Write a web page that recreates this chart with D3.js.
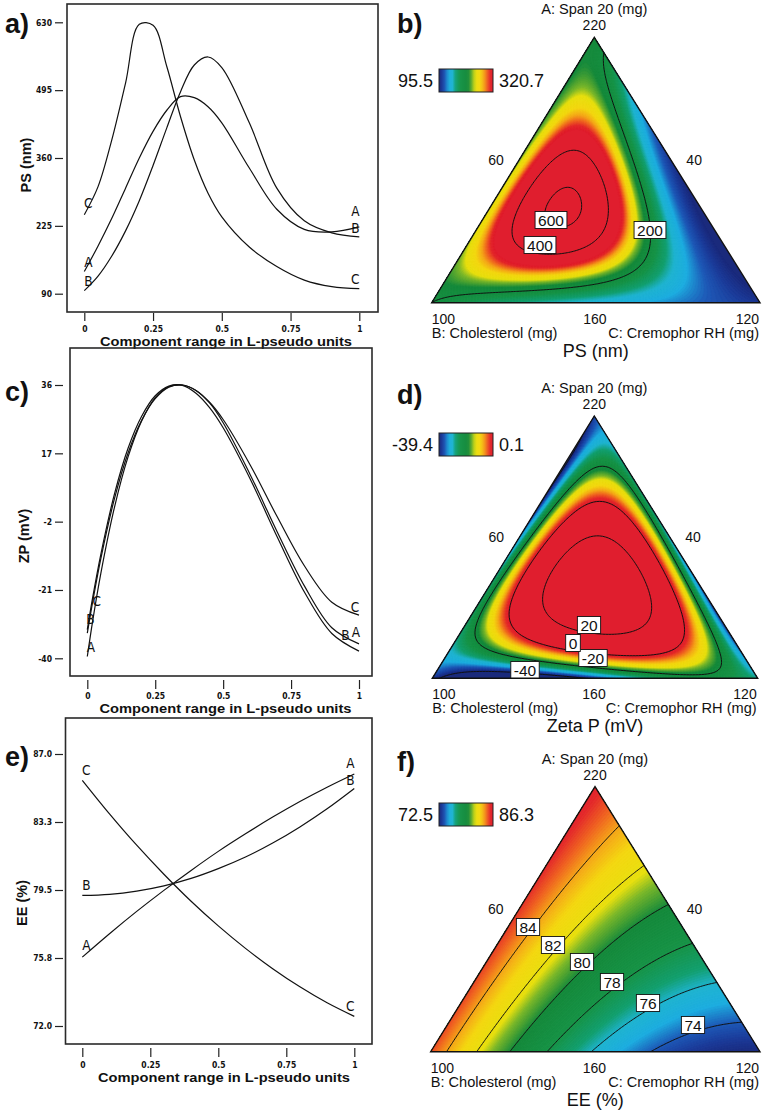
<!DOCTYPE html>
<html><head><meta charset="utf-8">
<script src="https://cdn.jsdelivr.net/npm/d3@7"></script>
<style>body{margin:0;background:#fff}svg{display:block}</style>
</head><body>
<svg id="chart" width="762" height="1110"></svg>
<script>
// ================= DATA =================
// Cox trace values read from panels a, c, e (x = component range in L-pseudo units)
const psT = [0,0.05,0.1,0.15,0.2,0.25,0.3,0.35,0.4,0.45,0.5,0.6,0.7,0.8,0.9,1];
const psA = [134,185,240,300,360,413,455,482,480,462,430,340,258,218,213,223];
const psB = [96,125,165,215,275,345,420,492,545,561,540,430,300,235,211,203];
const psC = [247,303,396,509,626,624,542,442,356,290,243,183,144,117,104,100];

const zpT = [0,0.02,0.05,0.1,0.15,0.2,0.25,0.3,0.35,0.4,0.45,0.5,0.6,0.7,0.8,0.9,1];
const zpA = [-39.5,-29.5,-16.3,2,16,26,32.5,35.5,36,34.5,31,25.5,11,-5,-20,-31.5,-36];
const zpB = [-32,-23,-11,5.7,18.4,27.3,33,35.7,35.9,33.7,29.7,24.1,9.8,-6.4,-21.7,-33.1,-38];
const zpC = [-33,-24.2,-12.2,4.4,17.1,26.2,32.2,35.4,36,34.5,31.2,26.4,13.7,-0.8,-14.4,-24.4,-28];

const eeT = [0,0.1,0.2,0.3,0.4,0.5,0.6,0.7,0.8,0.9,1];
const eeA = [75.8,77.09,78.32,79.48,80.58,81.63,82.6,83.52,84.38,85.17,85.9];
const eeB = [79.2,79.26,79.44,79.73,80.14,80.68,81.32,82.09,82.98,83.98,85.1];
const eeC = [85.55,83.7,81.97,80.37,78.88,77.52,76.28,75.16,74.16,73.28,72.53];

// Points (A, B, C pseudo fractions) and their values
const psMapPoints = [[0.349,0.485,0.166],[0.387,0.344,0.269],[0.455,0.349,0.196],[0.274,0.471,0.255]];
const psMapValues = [600,600,600,600];
const zpMapPoints = [[0,0.7,0.3],[0.03,0.7,0.27]];
const zpMapValues = [-45,-40];
const eeMapPoints = [[0,0.9505,0.0495],[0,0.8594,0.1406],[0,0.7653,0.2347],[0,0.6468,0.3532],[0,0.5102,0.4898],[0,0.3128,0.6872],
  [0.848,0,0.152],[0.705,0,0.295],[0.565,0,0.435],[0.4026,0,0.5974],[0.2592,0,0.7408],[0.1083,0,0.8917],
  [0.4706,0.4687,0.0607],[0.4026,0.427,0.1704],[0.3385,0.3708,0.2907],[0.263,0.3176,0.4194],[0.1838,0.248,0.568],[0.1008,0.1531,0.7461]];
const eeMapValues = [84,82,80,78,76,74, 84,82,80,78,76,74, 84,82,80,78,76,74];

const seriesNames = ["A","B","C"];
const xTicks = [0,0.25,0.5,0.75,1];
const xTickLabels = ["0","0.25","0.5","0.75","1"];
const psTicks = [90,225,360,495,630];
const psTickLabels = ["90","225","360","495","630"];
const zpTicks = [-40,-21,-2,17,36];
const zpTickLabels = ["-40","-21","-2","17","36"];
const eeTicks = [72,75.75,79.5,83.25,87];
const eeTickLabels = ["72.0","75.8","79.5","83.3","87.0"];

const psColorRange = [95.5,320.7];
const zpColorRange = [-39.4,0.1];
const eeColorRange = [72.5,86.3];
const psLevels = [200,400,600];
const zpLevels = [-40,-20,0,20];
const eeLevels = [74,76,78,80,82,84];
const componentNames = ["A: Span 20 (mg)","B: Cholesterol (mg)","C: Cremophor RH (mg)"];
const vertexLabels = ["220","100","120"];
const edgeLabels = ["60","40","160"];
const ternaryTitles = ["PS (nm)","Zeta P (mV)","EE (%)"];

const paletteStops = [0,0.05,0.11,0.18,0.25,0.31,0.4,0.54,0.62,0.67,0.76,0.83,0.89,0.95,1];
const paletteColors = ["#1a2a7c","#1c3a98","#1e5ab8","#1eaee0","#20b4d0","#14a070","#189448","#168a3c","#7cb82a","#e8e010","#f4d812","#f5a81a","#f06522","#e42a2c","#e01e2e"];

// ================= HELPERS =================
const svg = d3.select("#chart");
const defs = svg.append("defs");
const FONT = "'Liberation Sans', Arial, Helvetica, sans-serif";
const NARROW = "'Liberation Sans Narrow','Arial Narrow','DejaVu Sans Condensed',sans-serif";

function terms(a,b,c){return [a,b,c,a*b,a*c,b*c,a*b*c,a*b*(a-b),a*c*(a-c),b*c*(b-c)];}
function tracePoint(comp,t){const o=(1-t)/2;return comp===0?[t,o,o]:comp===1?[o,t,o]:[o,o,t];}
// least-squares Scheffé full-cubic fit to trace values plus points
function fitModel(m){
  const n=10, M=Array.from({length:n},()=>new Array(n+1).fill(0));
  const add=(abc,v,extra)=>{
    const r=terms(...abc), y=m.fwd(v), w=(m.w?m.w(v):1)*extra;
    for(let i=0;i<n;i++){for(let j=0;j<n;j++)M[i][j]+=w*r[i]*r[j];M[i][n]+=w*r[i]*y;}
  };
  m.series.forEach((vals,comp)=>vals.forEach((v,k)=>add(tracePoint(comp,m.T[k]),v,1)));
  m.mapPts.forEach((abc,k)=>add(abc,m.mapVals[k],m.mapW));
  let tr=0;for(let i=0;i<n;i++)tr+=M[i][i];
  for(let i=0;i<n;i++)M[i][i]+=1e-7*tr/n;
  for(let i=0;i<n;i++){
    let p=i;for(let r=i+1;r<n;r++)if(Math.abs(M[r][i])>Math.abs(M[p][i]))p=r;
    [M[i],M[p]]=[M[p],M[i]];
    for(let r=0;r<n;r++){if(r===i)continue;const f=M[r][i]/M[i][i];for(let c=i;c<=n;c++)M[r][c]-=f*M[i][c];}
  }
  const beta=M.map((row,i)=>row[n]/row[i]);
  return (a,b,c)=>{const t=terms(a,b,c);let s=0;for(let i=0;i<n;i++)s+=beta[i]*t[i];return m.inv(s);};
}
function makeColor(range){
  const [lo,hi]=range;
  return d3.scaleLinear().domain(paletteStops.map(s=>lo+s*(hi-lo))).range(paletteColors).interpolate(d3.interpolateRgb).clamp(true);
}

const models = [
  {T:psT,series:[psA,psB,psC],mapPts:psMapPoints,mapVals:psMapValues,mapW:3,fwd:v=>1000/v,inv:g=>1000/Math.max(g,0.4),w:v=>(v/250)**2},
  {T:zpT,series:[zpA,zpB,zpC],mapPts:zpMapPoints,mapVals:zpMapValues,mapW:8,fwd:v=>v,inv:g=>g},
  {T:eeT,series:[eeA,eeB,eeC],mapPts:eeMapPoints,mapVals:eeMapValues,mapW:1,fwd:v=>v,inv:g=>g}
].map(fitModel);

// ================= TRACE PANELS =================
const tracePanels = [
  {tag:"a)",tagPos:[5,33],frame:[67,4,378,312],xPix:[84.3,359.3],yDom:[90,630],yPix:[293.7,22.3],
   axisY:313,tickLen:8,tickPad:4.5,
   ticks:psTicks,tickLabels:psTickLabels,yTitle:"PS (nm)",yTitlePos:[26,165],xTitleY:345.5,xTitleX:226,
   T:psT,series:[psA,psB,psC],
   labels:[[2,0,4,-12],[0,0,4,-10],[1,0,4,-10],[0,1,-4,-16],[1,1,-4,-9],[2,1,-4,-10]]},
  {tag:"c)",tagPos:[5,401],frame:[70,348,372,676],xPix:[87.3,359],yDom:[-40,36],yPix:[658.3,385],
   axisY:680,tickLen:9,tickPad:4,
   ticks:zpTicks,tickLabels:zpTickLabels,yTitle:"ZP (mV)",yTitlePos:[24,536],xTitleY:712.5,xTitleX:225.5,
   T:zpT,series:[zpA,zpB,zpC],
   labels:[[0,0,3.5,-10],[1,0,3,-10.5],[2,0.02,4,0],[2,1,-4,-8.5],[0,1,-3,-12],[1,0.95,0,-7]]},
  {tag:"e)",tagPos:[5,766],frame:[65.5,718,372,1044],xPix:[82.3,354.3],yDom:[72,87],yPix:[1026,754],
   axisY:1048,tickLen:9,tickPad:5,
   ticks:eeTicks,tickLabels:eeTickLabels,yTitle:"EE (%)",yTitlePos:[22,903],xTitleY:1081.5,xTitleX:224,
   T:eeT,series:[eeA,eeB,eeC],
   labels:[[2,0,4,-10],[1,0,4,-10],[0,0,4,-12],[0,1,-4,-11],[1,1,-4,-8],[2,1,-4,-10]]}
];

tracePanels.forEach((p,pi)=>{
  const g=svg.append("g");
  const x=d3.scaleLinear().domain([0,1]).range(p.xPix);
  const y=d3.scaleLinear().domain(p.yDom).range(p.yPix);
  const [fx0,fy0,fx1,fy1]=p.frame;
  g.append("rect").attr("x",fx0).attr("y",fy0).attr("width",fx1-fx0).attr("height",fy1-fy0)
    .attr("fill","none").attr("stroke","#2a2a2a").attr("stroke-width",1.6);
  const xa=g.append("g").attr("transform",`translate(0,${p.axisY})`)
    .call(d3.axisBottom(x).tickValues(xTicks).tickFormat((d,i)=>xTickLabels[i]).tickSize(p.tickLen).tickSizeOuter(0).tickPadding(p.tickPad));
  xa.select(".domain").remove();
  xa.selectAll("line").attr("stroke","#222").attr("stroke-width",1.2);
  xa.selectAll("text").attr("font-family",NARROW).attr("font-weight","bold").attr("font-size",8.5).attr("fill","#111");
  const ya=g.append("g").attr("transform",`translate(${63},0)`)
    .call(d3.axisLeft(y).tickValues(p.ticks).tickFormat((d,i)=>p.tickLabels[i]).tickSize(8).tickSizeOuter(0).tickPadding(3));
  ya.select(".domain").remove();
  ya.selectAll("line").attr("stroke","#222").attr("stroke-width",1.2);
  ya.selectAll("text").attr("font-family",NARROW).attr("font-weight","bold").attr("font-size",8.5).attr("fill","#111");
  const line=d3.line().x((d,i)=>x(p.T[i])).y(d=>y(d)).curve(d3.curveCatmullRom.alpha(0.5));
  p.series.forEach(s=>g.append("path").attr("d",line(s)).attr("fill","none").attr("stroke","#111").attr("stroke-width",1.2));
  p.labels.forEach(([si,t,dx,dy])=>{
    const v=d3.scaleLinear().domain(p.T).range(p.series[si])(t);
    g.append("text").attr("x",x(t)+dx).attr("y",y(v)+dy).attr("text-anchor","middle").attr("dominant-baseline","central")
      .attr("font-family",NARROW).attr("font-size",13.5).attr("fill","#111").text(seriesNames[si]);
  });
  g.append("text").attr("x",p.xTitleX).attr("y",p.xTitleY).attr("text-anchor","middle")
    .attr("font-family",FONT).attr("font-weight","bold").attr("font-size",13.2).attr("fill","#111")
    .attr("textLength",252).attr("lengthAdjust","spacingAndGlyphs")
    .text("Component range in L-pseudo units");
  g.append("text").attr("transform",`translate(${p.yTitlePos[0]},${p.yTitlePos[1]}) rotate(-90)`)
    .attr("text-anchor","middle").attr("dominant-baseline","central")
    .attr("font-family",FONT).attr("font-weight","bold").attr("font-size",14.5).attr("fill","#111").text(p.yTitle);
  g.append("text").attr("x",p.tagPos[0]).attr("y",p.tagPos[1]).attr("font-family",FONT).attr("font-weight","bold")
    .attr("font-size",27).attr("fill","#111").text(p.tag);
});

// ================= TERNARY PANELS =================
const ternaryPanels = [
  {tag:"b)",tagPos:[397,33],A:[594.3,37.3],B:[431.7,302.7],C:[760,302.7],
   range:psColorRange,levels:psLevels,title:ternaryTitles[0],legendY:69,
   hints:[[650,230],[540,245],[551,220]]},
  {tag:"d)",tagPos:[397,404],A:[594.3,416],B:[432.3,678.3],C:[757.7,678.3],
   range:zpColorRange,levels:zpLevels,title:ternaryTitles[1],legendY:433,
   hints:[[525,670],[593,658],[573,643],[589,625]]},
  {tag:"f)",tagPos:[397,771],A:[595,786.7],B:[430.7,1051.7],C:[760,1051.7],
   range:eeColorRange,levels:eeLevels,title:ternaryTitles[2],legendY:803,
   hints:[[693,1025],[648,1003],[612,982],[582,962],[553,945],[528,927]]}
];

ternaryPanels.forEach((p,pi)=>{
  const f=models[pi];
  const [xa,ya]=p.A,[xb,yb]=p.B,[xc,yc]=p.C;
  const det=(yb-yc)*(xa-xc)+(xc-xb)*(ya-yc);
  const bary=(x,y)=>{const a=((yb-yc)*(x-xc)+(xc-xb)*(y-yc))/det;const b=((yc-ya)*(x-xc)+(xa-xc)*(y-yc))/det;return [a,b,1-a-b];};
  const x0=xb-3,x1=xc+3,y0=ya-3,y1=yb+3;
  const step=1.5,nx=Math.round((x1-x0)/step),ny=Math.round((y1-y0)/step);
  const dx=(x1-x0)/nx,dy=(y1-y0)/ny;
  const vals=new Float64Array(nx*ny);
  for(let j=0;j<ny;j++)for(let i=0;i<nx;i++){const [a,b,c]=bary(x0+(i+0.5)*dx,y0+(j+0.5)*dy);vals[j*nx+i]=f(a,b,c);}
  const path=d3.geoPath(d3.geoTransform({point(x,y){this.stream.point(x0+x*dx,y0+y*dy);}}));
  const color=makeColor(p.range);
  const [lo,hi]=p.range;
  const tri=[p.A,p.B,p.C].map(d=>d.join(",")).join(" ");
  defs.append("clipPath").attr("id","clip"+pi).append("polygon").attr("points",tri);
  const g=svg.append("g");
  const fillG=g.append("g").attr("clip-path",`url(#clip${pi})`);
  fillG.append("polygon").attr("points",tri).attr("fill",color(lo));
  const nB=120,ths=d3.range(nB+1).map(i=>lo+(hi-lo)*i/nB);
  d3.contours().size([nx,ny]).thresholds(ths)(vals).forEach((c,i)=>{
    const col=color(i<nB?(ths[i]+ths[i+1])/2:hi);
    fillG.append("path").attr("d",path(c)).attr("fill",col).attr("stroke",col).attr("stroke-width",0.4);
  });
  const lineG=g.append("g").attr("clip-path",`url(#clip${pi})`);
  const labelG=g.append("g");
  p.levels.forEach((lev,li)=>{
    const c=d3.contours().size([nx,ny]).contour(vals,lev);
    lineG.append("path").attr("d",path(c)).attr("fill","none").attr("stroke","#111").attr("stroke-width",1);
    const hint=p.hints[li];let best=null,bd=1e9;
    c.coordinates.forEach(poly=>poly.forEach(ring=>ring.forEach(([gx,gy])=>{
      const px=x0+gx*dx,py=y0+gy*dy;const [a,b,cc]=bary(px,py);
      if(a<0.005||b<0.005||cc<0.005)return;
      const d=(px-hint[0])**2+(py-hint[1])**2;if(d<bd){bd=d;best=[px,py];}
    })));
    if(!best)return;
    if(bd<16*16)best=hint;
    const tg=labelG.append("g");
    const rect=tg.append("rect");
    const tx=tg.append("text").attr("x",best[0]).attr("y",best[1]).attr("text-anchor","middle").attr("dominant-baseline","central")
      .attr("font-family",FONT).attr("font-size",15.5).attr("fill","#111").text(lev);
    const w=tx.node().getComputedTextLength();
    rect.attr("x",best[0]-w/2-3).attr("y",best[1]-8.5).attr("width",w+6).attr("height",17)
      .attr("fill","#fff").attr("stroke","#111").attr("stroke-width",0.9);
  });
  g.append("polygon").attr("points",tri).attr("fill","none").attr("stroke","#111").attr("stroke-width",1.4);
  const T=(x,y,s,size,anchor)=>g.append("text").attr("x",x).attr("y",y).attr("text-anchor",anchor||"middle")
    .attr("font-family",FONT).attr("font-size",size).attr("fill","#111").text(s);
  T(xa,ya-23,componentNames[0],14.6);
  T(xa,ya-7,vertexLabels[0],14);
  T(xb,yb+21,vertexLabels[1],14,"start");
  T(xc-1,yb+21,vertexLabels[2],14,"end");
  T((xb+xc)/2-1,yb+21,edgeLabels[2],14);
  T((xa+xb)/2-17,(ya+yb)/2-5,edgeLabels[0],14);
  T((xa+xc)/2+17,(ya+yc)/2-5,edgeLabels[1],14);
  T(xb,yb+35,componentNames[1],14.6,"start");
  T(xc-1,yb+35,componentNames[2],14.6,"end");
  T((xb+xc)/2,yb+54,p.title,18);
  const gid="grad"+pi;
  const gr=defs.append("linearGradient").attr("id",gid);
  d3.range(0,1.0001,0.05).forEach(s=>gr.append("stop").attr("offset",s).attr("stop-color",color(lo+s*(hi-lo))));
  g.append("rect").attr("x",439).attr("y",p.legendY).attr("width",54).attr("height",23)
    .attr("fill",`url(#${gid})`).attr("stroke","#222").attr("stroke-width",1);
  T(433,p.legendY+18,String(lo),18,"end");
  T(499,p.legendY+18,String(hi),18,"start");
  g.append("text").attr("x",p.tagPos[0]).attr("y",p.tagPos[1]).attr("font-family",FONT).attr("font-weight","bold")
    .attr("font-size",27).attr("fill","#111").text(p.tag);
});
</script>
</body></html>
